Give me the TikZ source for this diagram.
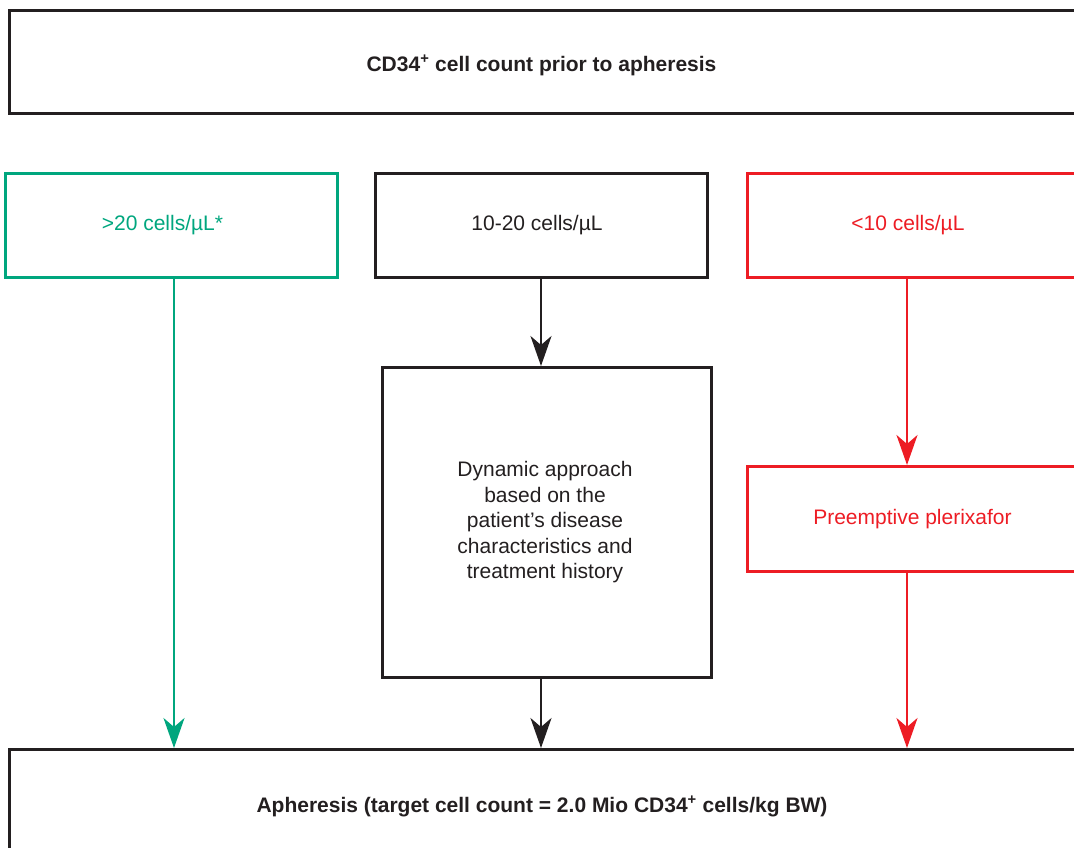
\documentclass[tikz,border=0pt]{standalone}
\usepackage{fontspec}
\setmainfont{Liberation Sans}
\usetikzlibrary{arrows.meta}
\definecolor{fgreen}{RGB}{0,166,126}
\definecolor{fred}{RGB}{237,28,36}
\definecolor{fblack}{RGB}{35,31,32}
\begin{document}
\begin{tikzpicture}[x=1pt,y=-1pt,
  box/.style={draw, line width=2.7pt, inner sep=0pt, anchor=north west},
  txt/.style={font=\fontsize{21}{25.5}\selectfont, align=center, inner sep=0pt},
  arr/.style={line width=2.4pt, -{Stealth[length=30pt,width=21pt,inset=9pt]}}]
\useasboundingbox (0,0) rectangle (1074,848);
\clip (0,0) rectangle (1074,848);
% boxes
\node[box, fblack, minimum width=1092pt, minimum height=103pt] (top) at (8,9) {};
\node[box, fgreen, minimum width=332pt, minimum height=104pt] (gbox) at (4,172) {};
\node[box, fblack, minimum width=332pt, minimum height=104pt] (kbox) at (374,172) {};
\node[box, fred, minimum width=354pt, minimum height=104pt] (rbox) at (746,172) {};
\node[box, fblack, minimum width=329pt, minimum height=310pt] (dyn) at (381,366) {};
\node[box, fred, minimum width=354pt, minimum height=105pt] (pre) at (746,465) {};
\node[box, fblack, minimum width=1092pt, minimum height=150pt] (bot) at (8,748) {};
% texts
\node[txt, fblack] (toptxt) at (541.5,65.5) {\bfseries CD34\textsuperscript{+} cell count prior to apheresis};
\node[txt, fgreen] (gtxt) at (162.5,225.5) {>20 cells/µL*};
\node[txt, fblack] (ktxt) at (537,225.5) {10-20 cells/µL};
\node[txt, fred] (rtxt) at (908,225.5) {<10 cells/µL};
\node[txt, fblack] (dyntxt) at (545,522.5) {Dynamic approach\\based on the\\patient’s disease\\characteristics and\\treatment history};
\node[txt, fred] (pretxt) at (912.5,519.5) {Preemptive plerixafor};
\node[txt, fblack] (bottxt) at (542,806.5) {\bfseries Apheresis (target cell count = 2.0 Mio CD34\textsuperscript{+} cells/kg BW)};
% arrows
\coordinate (gx) at (174,0);
\coordinate (kx) at (541,0);
\coordinate (rx) at (907,0);
\draw[arr, fgreen] (gx |- gbox.south) -- (gx |- bot.north);
\draw[arr, fblack] (kx |- kbox.south) -- (kx |- dyn.north);
\draw[arr, fblack] (kx |- dyn.south) -- (kx |- bot.north);
\draw[arr, fred] (rx |- rbox.south) -- (rx |- pre.north);
\draw[arr, fred] (rx |- pre.south) -- (rx |- bot.north);
\end{tikzpicture}
\end{document}
